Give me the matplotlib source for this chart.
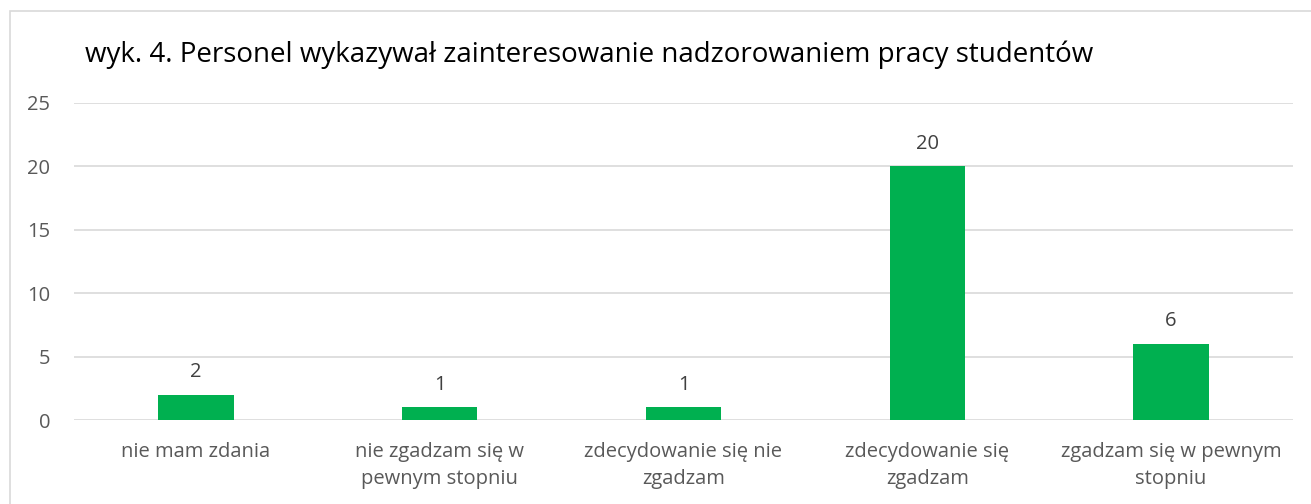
"""wyk. 4 - wykres słupkowy"""
import matplotlib.pyplot as plt
from matplotlib.patches import Rectangle
import numpy as np

categories = ['nie mam zdania', 'nie zgadzam się w\npewnym stopniu', 'zdecydowanie się nie\nzgadzam',
              'zdecydowanie się\nzgadzam', 'zgadzam się w pewnym\nstopniu']
values = [2, 1, 1, 20, 6]
y_ticks = [0, 5, 10, 15, 20, 25]
title = 'wyk. 4. Personel wykazywał zainteresowanie nadzorowaniem pracy studentów'

plt.rcParams['font.family'] = ['Open Sans', 'DejaVu Sans']

fig = plt.figure(figsize=(13.11, 5.04), dpi=100)
ax = fig.add_axes([74 / 1311, 1 - 420 / 504, (1293 - 74) / 1311, (420 - 103) / 504])

# ramka wykresu
fig.patches.append(Rectangle((10 / 1311, -0.1), 1.2, 1 - 11 / 504 + 0.1, transform=fig.transFigure,
                             fill=False, edgecolor='#D9D9D9', linewidth=1.2))

x = np.arange(len(categories))
bars = ax.bar(x, values, width=0.31, color='#00B050', zorder=3)
for b, v in zip(bars, values):
    ax.text(b.get_x() + b.get_width() / 2, v + 1.0, str(v), ha='center', va='bottom',
            fontsize=14.5, color='#404040')

ax.set_xlim(-0.5, len(categories) - 0.5)
ax.set_ylim(0, 25)
ax.set_yticks(y_ticks)
ax.set_xticks(x)
ax.set_xticklabels(categories, fontsize=14.5, color='#595959', linespacing=1.45)
ax.tick_params(axis='y', labelsize=14.5, labelcolor='#595959', length=0, pad=17)
ax.tick_params(axis='x', length=0, pad=16)
ax.grid(axis='y', color='#D9D9D9', linewidth=1.2, zorder=0)
for s in ax.spines.values():
    s.set_visible(False)

fig.text(85 / 1311, 1 - 62 / 504, title, fontsize=20, color='#000000', ha='left', va='baseline')

plt.savefig('out.png', dpi=100)
